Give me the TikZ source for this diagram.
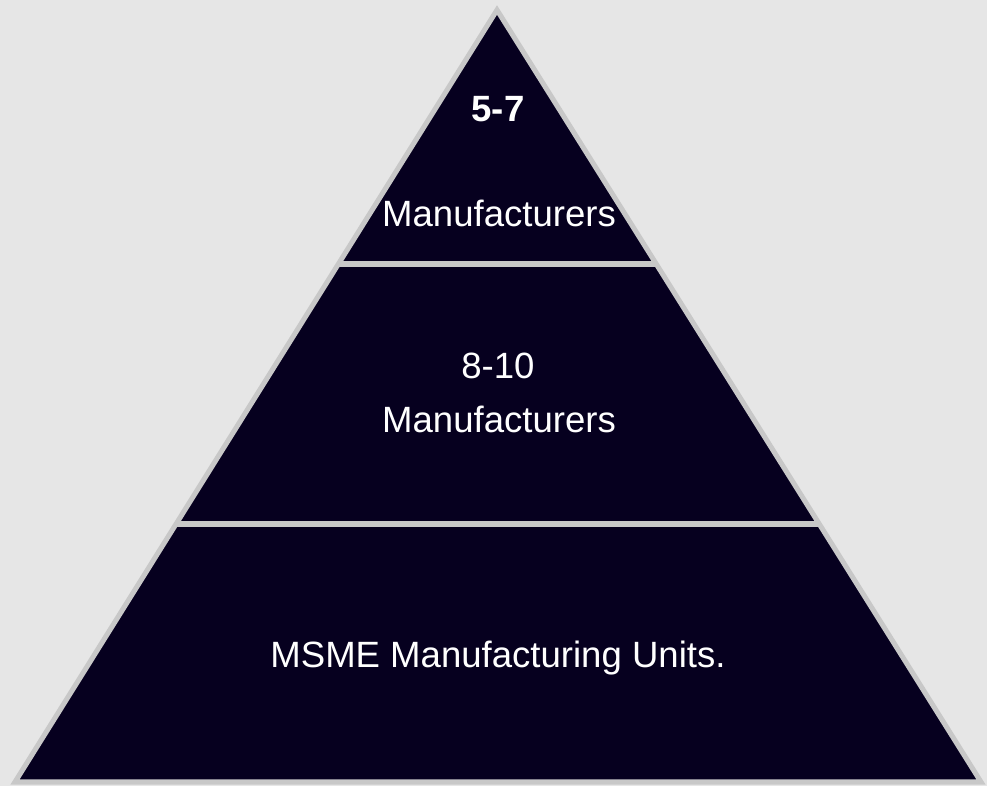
\documentclass[tikz,border=0pt]{standalone}
\usepackage{fontspec}
\setmainfont{Liberation Sans}
\usepackage{tikz}

\definecolor{bgGray}{HTML}{E6E6E6}
\definecolor{rimGray}{HTML}{C8C8C8}
\definecolor{layerNavy}{HTML}{06001F}

\tikzset{
  lbl/.style={text=white,anchor=base,inner sep=0pt,font=\fontsize{26}{31}\selectfont}
}

\begin{document}
\begin{tikzpicture}[x=0.025cm,y=-0.025cm]
      \fill[bgGray] (0,0) rectangle (987,786);
      \useasboundingbox (0,0) rectangle (987,786);
      \coordinate (apex) at (497,10);
      \coordinate (bl) at (15,782);
      \coordinate (br) at (981,782);
      \filldraw[fill=layerNavy,draw=rimGray,line width=3.6pt,line join=miter] (apex) -- (br) -- (bl) -- cycle;
      \coordinate (s1l) at (338,264);
      \coordinate (s1r) at (656,264);
      \coordinate (s2l) at (175,524);
      \coordinate (s2r) at (819,524);
      \draw[rimGray,line width=3.6pt] (s1l) -- (s1r);
      \draw[rimGray,line width=3.6pt] (s2l) -- (s2r);
      \node[lbl,font=\fontsize{26}{31}\selectfont\bfseries] (topnum) at (498,122) {5-7};
      \node[lbl] (toptxt) at (499,227) {Manufacturers};
      \node[lbl] (midnum) at (498,379) {8-10};
      \node[lbl] (midtxt) at (499,433) {Manufacturers};
      \node[lbl] (basetxt) at (498,667) {MSME Manufacturing Units.};
\end{tikzpicture}
\end{document}
